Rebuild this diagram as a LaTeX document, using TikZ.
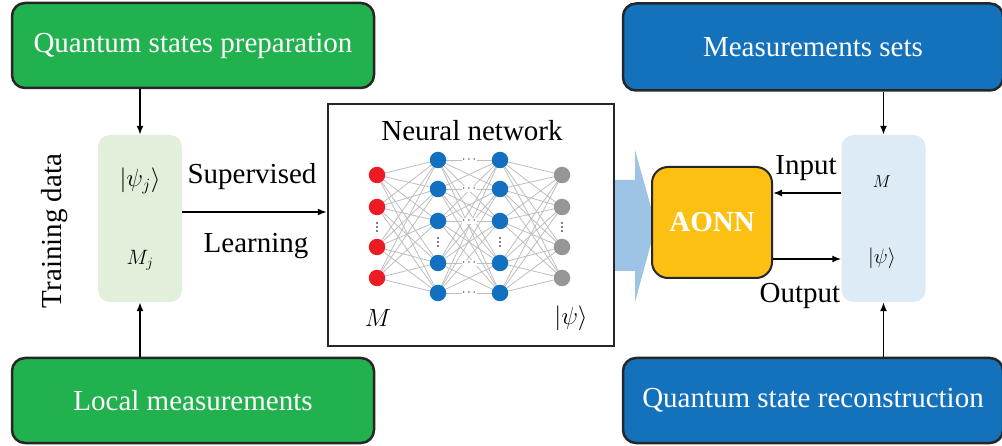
\documentclass[tikz,border=0pt]{standalone}
\usepackage{fontspec}
\setmainfont{Liberation Serif}
\usetikzlibrary{arrows.meta,calc}
\definecolor{boxgreen}{RGB}{33,177,78}
\definecolor{boxblue}{RGB}{20,114,188}
\definecolor{lgreen}{RGB}{226,239,218}
\definecolor{lblue}{RGB}{221,235,247}
\definecolor{aonn}{RGB}{252,192,18}
\definecolor{bigarrow}{RGB}{157,195,230}
\definecolor{nred}{RGB}{237,28,36}
\definecolor{nblue}{RGB}{17,112,192}
\definecolor{ngray}{RGB}{150,150,150}
\definecolor{edgegray}{RGB}{190,190,190}
\begin{document}
\begin{tikzpicture}[x=1pt,y=-1pt,
  bigbox/.style={draw=black!85,line width=2.5pt,rounded corners=13pt,inner sep=0pt,text=white,font=\fontsize{29}{34}\selectfont},
  softbox/.style={rounded corners=12pt,inner sep=0pt},
  conn/.style={line width=1.6pt,-{Latex[length=9pt,width=7pt]}},
  lbl/.style={font=\fontsize{29}{34}\selectfont,inner sep=0pt},
  neuron/.style={circle,inner sep=0pt,minimum size=16.5pt},
  nnedge/.style={draw=edgegray,line width=0.8pt},
  dotmark/.style={circle,fill=black,inner sep=0pt,minimum size=1.6pt}]
\useasboundingbox (0,0) rectangle (1002,446);

% big boxes
\node[bigbox,fill=boxgreen,minimum width=362pt,minimum height=85pt] (qsp) at (193,45.5) {Quantum states preparation};
\node[bigbox,fill=boxgreen,minimum width=362pt,minimum height=85pt] (lm) at (193,400.5) {Local measurements};
\node[bigbox,fill=boxblue,minimum width=380pt,minimum height=87pt] (ms) at (813,47) {Measurements sets};
\node[bigbox,fill=boxblue,minimum width=380pt,minimum height=85pt] (qsr) at (813,400.5) {Quantum state reconstruction};

% soft boxes
\node[softbox,fill=lgreen,minimum width=84pt,minimum height=167pt] (td) at (140,218.5) {};
\node[softbox,fill=lblue,minimum width=84pt,minimum height=167pt] (rs) at (883.5,218.5) {};
\node[font=\fontsize{24}{28}\selectfont] (psij) at (140,181) {$|\psi_j\rangle$};
\node[font=\fontsize{20}{24}\selectfont] (mj) at (140,260) {$M_j$};
\node[font=\fontsize{19}{22}\selectfont] (mr) at (882,182) {$M$};
\node[font=\fontsize{22}{26}\selectfont] (psir) at (882,258) {$|\psi\rangle$};

% training data
\node[lbl,rotate=90] (tdlbl) at (55,231) {Training data};

% big translucent arrow
\fill[bigarrow] (614,180) -- (635,180) -- (635,150) -- (656,225) -- (635,302) -- (635,271) -- (614,271) -- cycle;

% NN box
\node[draw=black!85,line width=2.5pt,minimum width=286pt,minimum height=242pt,inner sep=0pt] (nn) at (471,225) {};
\node[lbl] (nnt) at (472,131) {Neural network};
\node[font=\fontsize{29}{34}\selectfont] (mi) at (378,318) {$M$};
\node[font=\fontsize{29}{34}\selectfont] (po) at (571,318) {$|\psi\rangle$};

% AONN
\node[draw=black!85,line width=2pt,rounded corners=16pt,fill=aonn,minimum width=120pt,minimum height=111pt,inner sep=0pt,text=white,font=\fontsize{29}{34}\selectfont\bfseries] (ao) at (712,222.5) {AONN};

% neurons
\foreach \y [count=\i] in {175,207,247,278}{
  \coordinate (r\i) at (377,\y);
  \coordinate (g\i) at (562,\y);
}
\foreach \y [count=\i] in {160,189,221,263,293}{
  \coordinate (a\i) at (438,\y);
  \coordinate (b\i) at (500,\y);
}
\foreach \i in {1,...,4}{\foreach \j in {1,...,5}{
  \draw[nnedge] (r\i) -- (a\j);
  \draw[nnedge] (b\j) -- (g\i);
}}
\foreach \i in {1,...,5}{\foreach \j in {1,...,5}{
  \draw[nnedge] (a\i) -- (b\j);
}}
\foreach \i in {1,...,5}{
  \node[fill=white,inner sep=0.5pt,font=\fontsize{12}{12}\selectfont] (hd\i) at ($(a\i)!0.5!(b\i)$) {$\cdots$};
}
\foreach \i in {1,...,4}{
  \node[neuron,fill=nred] (nr\i) at (r\i) {};
  \node[neuron,fill=ngray] (ng\i) at (g\i) {};
}
\foreach \i in {1,...,5}{
  \node[neuron,fill=nblue] (na\i) at (a\i) {};
  \node[neuron,fill=nblue] (nb\i) at (b\i) {};
}
% vertical ellipses
\foreach \x/\yc in {377/227,562/227,438/242,500/242}{
  \foreach \d in {-4,0,4}{
    \node[dotmark] at (\x,\yc+\d) {};
  }
}

% connectors
\draw[conn] (qsp.south -| td.north) -- (td.north);
\draw[conn] (lm.north -| td.south) -- (td.south);
\draw[conn] (td.east |- 0,212) -- (nn.west |- 0,212);
\node[lbl] (sup) at (252,177) {Supervised};
\node[lbl] (lrn) at (256,246) {Learning};

\draw[conn] (ms.south -| rs.north) -- (rs.north);
\draw[conn] (qsr.north -| rs.south) -- (rs.south);
\draw[conn] (rs.west |- 0,193) -- (ao.east |- 0,193);
\draw[conn] (ao.east |- 0,259) -- (rs.west |- 0,259);
\node[lbl] (inp) at (806,168) {Input};
\node[lbl] (outp) at (800,296) {Output};
\end{tikzpicture}
\end{document}
